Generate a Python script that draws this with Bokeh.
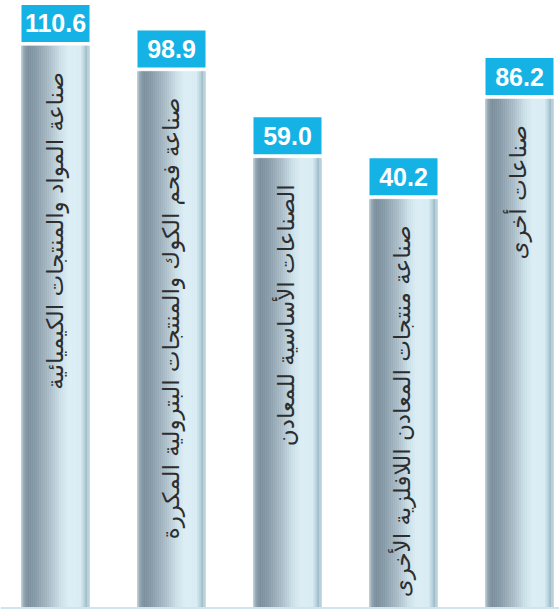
import numpy as np
from bokeh.plotting import figure
from bokeh.models import Range1d, ColumnDataSource, Span
from bokeh.core.properties import value
from bokeh.embed import file_html
from bokeh.resources import INLINE

# ---- data ----
categories = [
    "صناعة المواد والمنتجات الكيميائية",
    "صناعة فحم الكوك والمنتجات البترولية المكررة",
    "الصناعات الأساسية للمعادن",
    "صناعة منتجات المعادن اللافلزية الأخرى",
    "صناعات أخرى",
]
values = [110.6, 98.9, 59.0, 40.2, 86.2]
value_labels = ["110.6", "98.9", "59.0", "40.2", "86.2"]

# ---- layout ----
W, H = 559, 609
x_start, x_end = -0.47414, 4.34483
y_start, y_end = -148.05, 131.44
kx = W / (x_end - x_start)
ky = H / (y_end - y_start)
bar_w = 68 / kx

p = figure(width=W, height=H, x_range=Range1d(x_start, x_end), y_range=Range1d(y_start, y_end),
           x_axis_type=None, y_axis_type=None, toolbar_location=None, output_backend="svg",
           min_border=0, outline_line_color=None, background_fill_color="white",
           border_fill_color="white")
p.grid.visible = False

# cylinder gradient (horizontal) built from thin strips
stops = [(0.00, "#c3d5de"), (0.03, "#98acb8"), (0.09, "#7b8f9c"), (0.22, "#889ca9"),
         (0.42, "#abbec9"), (0.58, "#cde0e8"), (0.70, "#dcedf4"), (0.87, "#d9ecf3"),
         (0.92, "#bdd5df"), (0.96, "#a0bcc8"), (1.00, "#c8dde6")]


def hex2rgb(h):
    return np.array([int(h[i:i + 2], 16) for i in (1, 3, 5)], dtype=float)


def grad(t):
    for (t0, c0), (t1, c1) in zip(stops[:-1], stops[1:]):
        if t0 <= t <= t1:
            f = (t - t0) / (t1 - t0) if t1 > t0 else 0
            c = hex2rgb(c0) * (1 - f) + hex2rgb(c1) * f
            return "#%02x%02x%02x" % tuple(int(round(v)) for v in c)
    return stops[-1][1]


N = 34
L, R, T, B, C = [], [], [], [], []
for i, v in enumerate(values):
    left = i - bar_w / 2
    for j in range(N):
        L.append(left + j * bar_w / N)
        R.append(left + (j + 1) * bar_w / N)
        T.append(v)
        B.append(y_start)
        C.append(grad((j + 0.5) / N))
p.quad(left=L, right=R, top=T, bottom=B, fill_color=C, line_color=C, line_width=0.6)

idx = list(range(len(values)))
src = ColumnDataSource(dict(x=idx, v=values, lab=value_labels, cat=categories,
                            bb=[v + 4 / ky for v in values], bt=[v + 41 / ky for v in values],
                            ly=[v + 22.5 / ky for v in values]))

# value boxes
p.vbar(x="x", width=bar_w, bottom="bb", top="bt", source=src, fill_color="#15b2e5", line_color=None)
p.text(x="x", y="ly", text="lab", source=src, text_align="center", text_baseline="middle",
       text_color="white", text_font_style="bold", text_font_size="25px",
       text_font=value("Liberation Sans"))

# category names inside bars
p.text(x="x", y="v", text="cat", source=src, angle=np.pi / 2, text_align="right",
       text_baseline="middle", y_offset=26, x_offset=-1, text_font_size="23px", text_color="#2e2e2e",
       text_font=value("DejaVu Sans"))

p.add_layout(Span(location=(y_start + 1.5 / ky), dimension="width", line_color="#cfe5ee", line_width=2))

open("out.html", "w").write(file_html(p, INLINE))
